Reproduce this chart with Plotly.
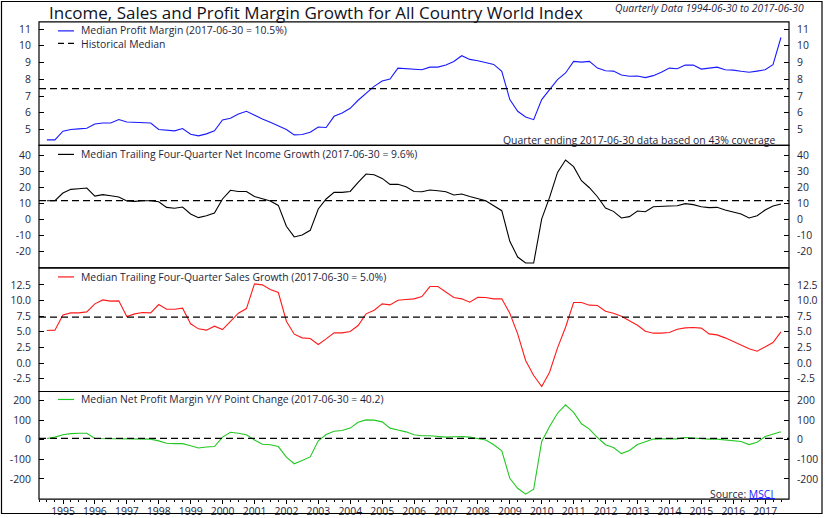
import pandas as pd
import plotly.graph_objects as go

# ---------------- data ----------------
dates = pd.date_range(start="1994-06-30", periods=93,
                      freq=pd.offsets.QuarterEnd(startingMonth=3))

profit_margin = [4.38, 4.38, 4.90, 5.00, 5.04, 5.08, 5.33, 5.39, 5.39, 5.60,
                 5.45, 5.43, 5.43, 5.39, 5.00, 4.98, 4.92, 5.06, 4.72, 4.62,
                 4.74, 4.92, 5.57, 5.67, 5.93, 6.09, 5.85, 5.63, 5.43, 5.23,
                 5.00, 4.68, 4.70, 4.84, 5.15, 5.12, 5.79, 5.99, 6.27, 6.75,
                 7.14, 7.58, 7.90, 8.02, 8.67, 8.63, 8.63, 8.57, 8.73, 8.73,
                 8.85, 9.07, 9.41, 9.19, 9.11, 8.99, 8.89, 8.48, 6.79, 6.09,
                 5.75, 5.59, 6.79, 7.38, 7.98, 8.38, 9.07, 9.03, 9.07, 8.67,
                 8.51, 8.49, 8.26, 8.18, 8.20, 8.10, 8.22, 8.42, 8.67, 8.63,
                 8.85, 8.85, 8.61, 8.67, 8.73, 8.57, 8.55, 8.48, 8.42, 8.49,
                 8.57, 8.87, 10.5]

income_growth = [11.6, 11.6, 16.4, 18.7, 19.1, 19.5, 14.5, 15.4, 14.7, 13.9,
                 11.4, 11.2, 11.6, 11.6, 11.0, 7.5, 6.9, 7.7, 3.4, 1.1,
                 2.3, 4.0, 12.7, 18.1, 17.4, 17.4, 14.3, 12.7, 11.4, 8.7,
                 -4.3, -10.9, -9.7, -6.8, 6.5, 12.7, 16.8, 16.8, 17.4, 23.0,
                 28.2, 27.8, 25.5, 21.8, 21.8, 20.3, 17.4, 17.2, 18.3, 17.8,
                 17.2, 15.2, 15.8, 14.3, 13.1, 11.6, 8.5, 5.4, -13.6, -23.4,
                 -27.1, -27.1, 0.3, 13.7, 29.2, 36.9, 32.8, 24.1, 19.7, 14.1,
                 7.1, 5.0, 0.9, 1.7, 5.2, 4.8, 7.9, 7.9, 8.3, 8.5,
                 9.8, 9.2, 7.9, 7.3, 7.5, 5.8, 4.8, 3.4, 0.9, 2.3,
                 5.8, 8.3, 9.6]

sales_growth = [5.21, 5.27, 7.71, 8.03, 8.03, 8.19, 9.47, 10.10, 9.90, 9.95,
                7.45, 7.87, 8.09, 8.03, 9.36, 8.62, 8.62, 8.78, 6.28, 5.48,
                5.27, 5.90, 5.37, 6.70, 7.98, 8.72, 12.66, 12.50, 11.76, 11.28,
                6.70, 4.63, 4.04, 3.94, 2.98, 3.88, 4.84, 4.84, 5.05, 6.01,
                7.87, 8.46, 9.47, 9.31, 10.05, 10.16, 10.27, 10.64, 12.23, 12.23,
                11.28, 10.48, 10.27, 9.73, 10.53, 10.48, 10.27, 10.27, 7.98, 4.68,
                0.43, -1.97, -3.72, -1.44, 2.45, 5.74, 9.68, 9.68, 9.26, 9.20,
                8.30, 7.98, 7.50, 6.76, 6.06, 5.11, 4.79, 4.79, 4.89, 5.43,
                5.64, 5.70, 5.59, 4.68, 4.52, 4.04, 3.46, 2.87, 2.29, 1.91,
                2.66, 3.30, 5.0]

margin_change = [6, 13, 25, 31, 33, 33, 6, 6, 6, 6,
                 6, 4, 4, 3, -6, -18, -20, -20, -31, -42,
                 -37, -35, 13, 38, 33, 25, -2, -23, -26, -35,
                 -89, -123, -106, -88, -6, 26, 43, 47, 59, 89,
                 101, 100, 91, 59, 49, 40, 25, 20, 20, 15,
                 13, 15, 16, 13, 4, -2, -26, -57, -197, -248,
                 -278, -253, -9, 67, 135, 178, 139, 81, 54, 11,
                 -26, -40, -71, -55, -25, -13, 3, 4, 3, 4,
                 11, 8, 8, 3, 3, -2, -6, -9, -25, -13,
                 16, 30, 40.2]

historical_median = [7.45, 11.7, 7.35, 7.0]

series_names = [
    "Median Profit Margin (2017-06-30 = 10.5%)",
    "Median Trailing Four-Quarter Net Income Growth (2017-06-30 = 9.6%)",
    "Median Trailing Four-Quarter Sales Growth (2017-06-30 = 5.0%)",
    "Median Net Profit Margin Y/Y Point Change (2017-06-30 = 40.2)",
]
median_label = "Historical Median"
series_colors = ["#1a1aff", "#000000", "#ff1a1a", "#22c822"]

tick_vals = [
    [5, 6, 7, 8, 9, 10, 11],
    [-20, -10, 0, 10, 20, 30, 40],
    [-2.5, 0, 2.5, 5, 7.5, 10, 12.5],
    [-200, -100, 0, 100, 200],
]
tick_text = [
    ["5", "6", "7", "8", "9", "10", "11"],
    ["-20", "-10", "0", "10", "20", "30", "40"],
    ["-2.5", "0.0", "2.5", "5.0", "7.5", "10.0", "12.5"],
    ["-200", "-100", "0", "100", "200"],
]
y_ranges = [[4.05, 11.43], [-30.2, 46.0], [-4.52, 15.2], [-303, 246]]

title_text = "Income, Sales and Profit Margin Growth for All Country World Index"
subtitle_text = "Quarterly Data 1994-06-30 to 2017-06-30"
coverage_text = "Quarter ending 2017-06-30 data based on 43% coverage"

# ---------------- layout geometry (pixels) ----------------
W, H = 825, 518
FONT = "Open Sans"
TXT = "#1e1e3c"
LFS = 10.4


def px(x):
    return x / W


def py(y):
    return 1 - y / H


panel_px = [(22, 146), (146, 269), (269, 393), (393, 501)]
domains = [[py(b), py(t)] for (t, b) in panel_px]

fig = go.Figure()
series = [profit_margin, income_growth, sales_growth, margin_change]
for k, vals in enumerate(series):
    fig.add_trace(go.Scatter(
        x=dates, y=vals, mode="lines",
        line=dict(color=series_colors[k], width=1.1),
        yaxis="y" if k == 0 else f"y{k + 1}",
        xaxis="x", showlegend=False, hoverinfo="skip"))

layout = dict(
    width=W, height=H,
    margin=dict(l=0, r=0, t=0, b=0),
    paper_bgcolor="white", plot_bgcolor="white",
    font=dict(family=FONT, size=10, color=TXT),
    showlegend=False,
    xaxis=dict(
        domain=[px(39), px(789)], anchor="y4", type="date",
        range=["1994-04-01", "2017-09-30"],
        tick0="1995-01-01", dtick="M12", tickformat="%Y",
        ticks="outside", ticklen=4, tickcolor="black", tickwidth=1,
        minor=dict(ticks="outside", ticklen=2, dtick="M3",
                   tick0="1995-01-01", tickcolor="black"),
        showgrid=False, zeroline=False, showline=False,
        tickfont=dict(family=FONT, size=10.4, color=TXT),
        ticklabelstandoff=-2,
    ),
)

for k in range(4):
    left_name = "yaxis" if k == 0 else f"yaxis{k + 1}"
    right_name = f"yaxis{k + 5}"
    common = dict(
        range=y_ranges[k], tickmode="array",
        tickvals=tick_vals[k], ticktext=tick_text[k],
        ticks="inside", ticklen=5, tickcolor="black",
        showgrid=False, zeroline=False, showline=False,
        tickfont=dict(family=FONT, size=10.4, color=TXT),
        ticklabelstandoff=7,
    )
    layout[left_name] = dict(domain=domains[k], anchor="x", side="left", **common)
    layout[right_name] = dict(
        overlaying="y" if k == 0 else f"y{k + 1}",
        anchor="x", side="right", **common)

fig.update_layout(**layout)

# invisible traces so the right-hand axes render
for k in range(4):
    fig.add_trace(go.Scatter(
        x=[dates[0]], y=[historical_median[k]], mode="markers",
        marker=dict(opacity=0), yaxis=f"y{k + 5}", xaxis="x",
        showlegend=False, hoverinfo="skip"))

# panel frames and historical median lines
for k in range(4):
    yref = "y" if k == 0 else f"y{k + 1}"
    fig.add_shape(type="rect", xref="x domain", yref=f"{yref} domain",
                  x0=0, x1=1, y0=0, y1=1,
                  line=dict(color="black", width=1.2), layer="above")
    fig.add_shape(type="line", xref="x domain", yref=yref,
                  x0=0, x1=1, y0=historical_median[k], y1=historical_median[k],
                  line=dict(color="black", width=1.3, dash="7px,4px"))

# legend samples + text for each panel
legend_rows = [31, 155, 278, 401]
for k in range(4):
    yy = legend_rows[k]
    fig.add_shape(type="line", xref="paper", yref="paper",
                  x0=px(58), x1=px(74), y0=py(yy), y1=py(yy),
                  line=dict(color=series_colors[k], width=1.2))
    if k == 0:
        continue
    fig.add_annotation(x=px(79), y=py(yy), xref="paper", yref="paper",
                       text=series_names[k], showarrow=False,
                       xanchor="left", yanchor="middle",
                       font=dict(family=FONT, size=LFS, color=TXT))

# first panel: two-line legend in one text block
fig.add_annotation(x=px(79), y=py(37.3), xref="paper", yref="paper",
                   text=series_names[0] + "<br>" + median_label,
                   showarrow=False, align="left",
                   xanchor="left", yanchor="middle",
                   font=dict(family=FONT, size=LFS, color=TXT))
fig.add_shape(type="line", xref="paper", yref="paper",
              x0=px(58), x1=px(74), y0=py(43.5), y1=py(43.5),
              line=dict(color="black", width=1.3, dash="6px,4px"))

# titles and notes
fig.add_annotation(x=px(47), y=py(13), xref="paper", yref="paper",
                   text=title_text, showarrow=False,
                   xanchor="left", yanchor="middle",
                   font=dict(family=FONT, size=17, color="#111122"))
fig.add_annotation(x=px(806), y=py(8.5), xref="paper", yref="paper",
                   text=f"<i>{subtitle_text}</i>", showarrow=False,
                   xanchor="right", yanchor="middle",
                   font=dict(family=FONT, size=10.3, color=TXT))
fig.add_annotation(x=px(777), y=py(140.5), xref="paper", yref="paper",
                   text=coverage_text, showarrow=False,
                   xanchor="right", yanchor="middle",
                   font=dict(family=FONT, size=LFS, color=TXT))
fig.add_annotation(x=px(775), y=py(495.5), xref="paper", yref="paper",
                   text='Source: <a href="https://www.msci.com" '
                        'style="color:#1a1aff">MSCI</a>',
                   showarrow=False, xanchor="right", yanchor="middle",
                   font=dict(family=FONT, size=LFS, color=TXT))
# link underline
fig.add_shape(type="line", xref="paper", yref="paper",
              x0=px(749.5), x1=px(775), y0=py(500.5), y1=py(500.5),
              line=dict(color="#1a1aff", width=1.2))

# outer frame
fig.add_shape(type="rect", xref="paper", yref="paper",
              x0=px(1.5), x1=px(822), y0=py(515.5), y1=py(1.5),
              line=dict(color="black", width=1.2))

fig.write_html("out.html",
               config={"displayModeBar": False},
               post_script="document.body.style.margin='0';"
                           "document.body.style.overflow='hidden';")
